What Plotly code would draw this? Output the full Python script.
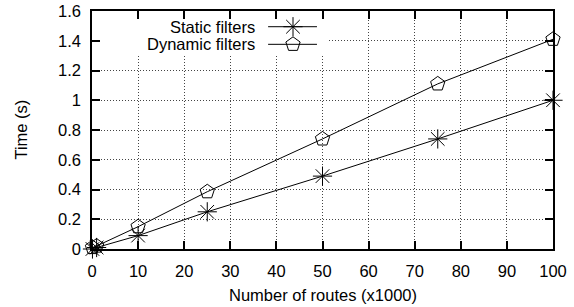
import plotly.graph_objects as go

routes = [0.1, 1, 10, 25, 50, 75, 100]
static_time = [0.0, 0.01, 0.09, 0.25, 0.49, 0.74, 1.0]
dynamic_time = [0.01, 0.02, 0.15, 0.385, 0.74, 1.11, 1.41]
series_names = ["Static filters", "Dynamic filters"]
series_symbols = ["asterisk-open", "pentagon-open"]
x_ticks = [0, 10, 20, 30, 40, 50, 60, 70, 80, 90, 100]
y_ticks = [0, 0.2, 0.4, 0.6, 0.8, 1.0, 1.2, 1.4, 1.6]
y_tick_text = ["0", "0.2", "0.4", "0.6", "0.8", "1", "1.2", "1.4", "1.6"]

FONT = "Liberation Sans, Arial, Helvetica, sans-serif"
FS = 16.5

fig = go.Figure()
for name, ys, sym, size in zip(series_names, [static_time, dynamic_time], series_symbols, [16, 15]):
    fig.add_trace(go.Scatter(
        x=routes, y=ys, name=name, mode="lines+markers",
        line=dict(color="black", width=1),
        marker=dict(symbol=sym, size=size, color="black", line=dict(width=1, color="black")),
        cliponaxis=False, showlegend=False,
    ))

# custom gnuplot-style key (text left, sample right) on hidden overlay axes
key_rows = [0.934, 0.860]
for name, sym, size, ky in zip(series_names, series_symbols, [16, 15], key_rows):
    fig.add_trace(go.Scatter(
        x=[0.382, 0.488], y=[ky, ky], mode="lines", xaxis="x2", yaxis="y2",
        line=dict(color="black", width=1), showlegend=False, hoverinfo="skip",
    ))
    fig.add_trace(go.Scatter(
        x=[0.436], y=[ky], mode="markers", xaxis="x2", yaxis="y2",
        marker=dict(symbol=sym, size=size, color="black", line=dict(width=1, color="black")),
        showlegend=False, hoverinfo="skip", cliponaxis=False,
    ))
    fig.add_annotation(x=0.358, y=ky, xref="x2", yref="y2", text=name, showarrow=False,
                       xanchor="right", yanchor="middle", font=dict(family=FONT, size=FS, color="black"))

axis_common = dict(
    showline=True, linecolor="black", linewidth=1.5, mirror="ticks",
    ticks="inside", ticklen=8, tickwidth=1.5, tickcolor="black",
    showgrid=True, gridcolor="#444", gridwidth=1, griddash="1px,2px",
    zeroline=False, automargin=False, tickfont=dict(family=FONT, size=FS, color="black"),
)

fig.update_layout(
    width=574, height=307,
    margin=dict(l=92, r=21, t=11, b=58, autoexpand=False),
    paper_bgcolor="white", plot_bgcolor="white",
    xaxis=dict(range=[0, 100], tickvals=x_ticks, ticktext=[str(v) for v in x_ticks],
               ticklabelstandoff=6, **axis_common),
    yaxis=dict(range=[0, 1.6], tickvals=y_ticks, ticktext=y_tick_text,
               ticklabelstandoff=6, **axis_common),
    xaxis2=dict(range=[0, 1], overlaying="x", visible=False, fixedrange=True),
    yaxis2=dict(range=[0, 1], overlaying="y", visible=False, fixedrange=True),
    shapes=[dict(type="rect", xref="x", yref="y", x0=0, x1=51.2, y0=1.306, y1=1.6,
                 fillcolor="white", line=dict(width=0), layer="between")],
    showlegend=False,
)

fig.add_annotation(x=0.5, y=-0.195, xref="paper", yref="paper", yanchor="middle",
                   text="Number of routes (x1000)", showarrow=False,
                   font=dict(family=FONT, size=FS, color="black"))
fig.add_annotation(x=-0.155, y=0.5, xref="paper", yref="paper", textangle=-90,
                   text="Time (s)", showarrow=False, xanchor="center",
                   font=dict(family=FONT, size=FS, color="black"))

fig.write_html("out.html", config={"displayModeBar": False},
               post_script="document.body.style.margin='0';document.body.style.overflow='hidden';")
